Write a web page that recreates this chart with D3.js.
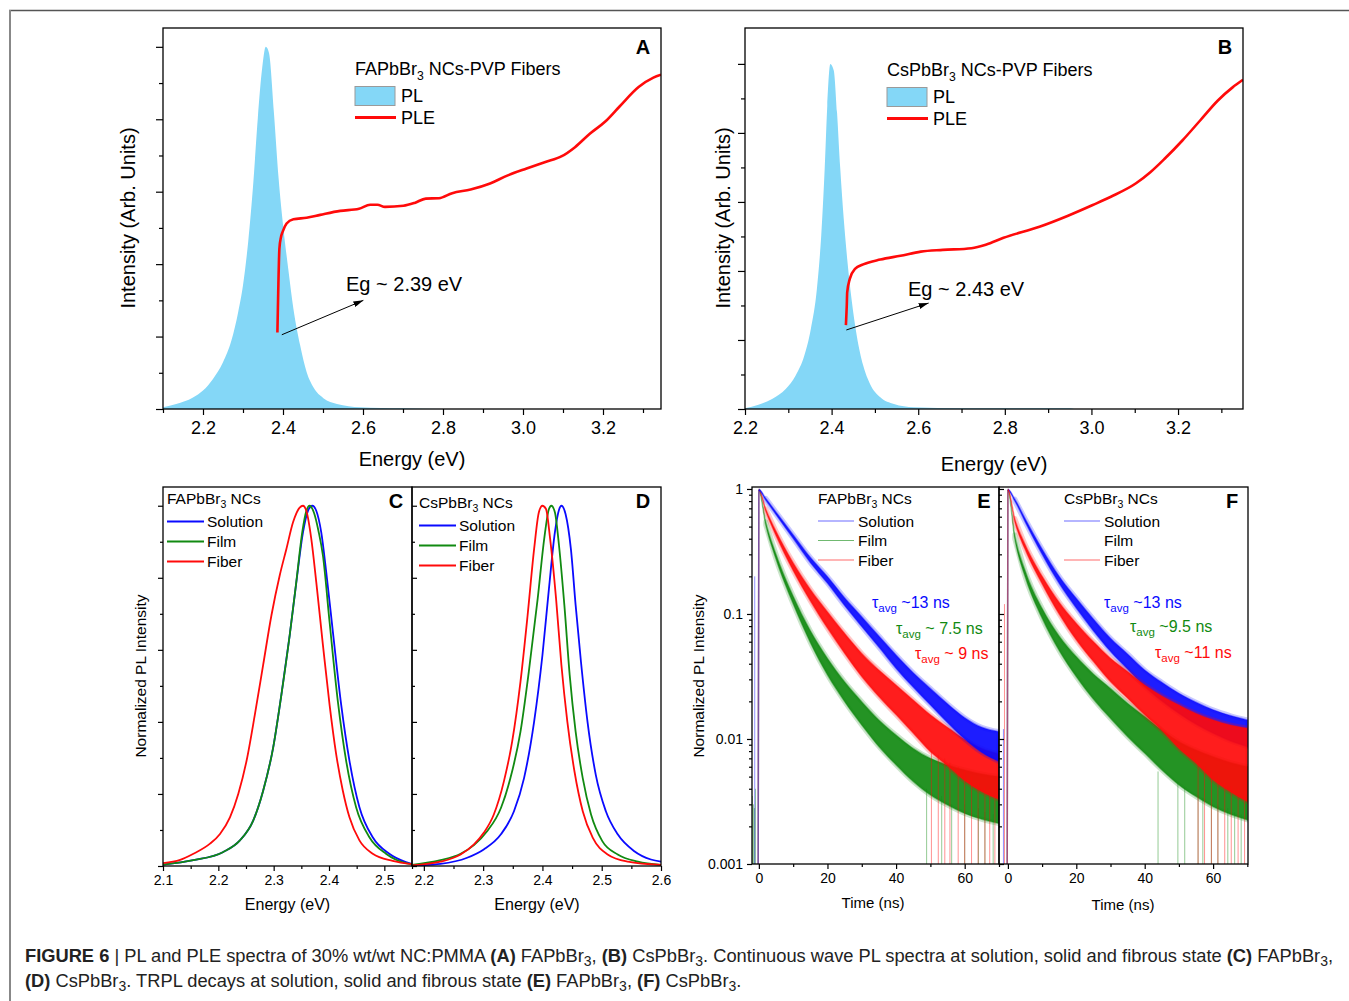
<!DOCTYPE html>
<html><head><meta charset="utf-8">
<script src="https://cdn.jsdelivr.net/npm/d3@7"></script>
<style>
body{margin:0;background:#fff}
svg{display:block;font-family:"Liberation Sans",Arial,sans-serif}
</style></head><body>
<div id="chart"></div>
<script>
const W = 1349, H = 1001;
const FONT = '"Liberation Sans",Arial,sans-serif';
const BLUE = '#0a0aff', GREEN = '#118a11', RED = '#ff0a0a', SKY = '#84d7f7';

// ---- A / B : PL (filled) and PLE ----
const plA = [[2.1,0.005],[2.133,0.014],[2.175,0.032],[2.2,0.051],[2.225,0.083],[2.25,0.129],[2.271,0.189],[2.288,0.268],[2.3,0.342],[2.313,0.462],[2.326,0.628],[2.337,0.803],[2.348,0.942],[2.357,1.0],[2.365,0.983],[2.377,0.822],[2.389,0.637],[2.401,0.499],[2.413,0.388],[2.426,0.277],[2.443,0.175],[2.459,0.102],[2.476,0.06],[2.501,0.03],[2.535,0.014],[2.593,0.005],[2.7,0.002],[2.8,0],[3.345,0]];
const pleA = [[2.386,0.211],[2.388,0.32],[2.391,0.443],[2.395,0.475],[2.399,0.489],[2.409,0.512],[2.426,0.524],[2.459,0.528],[2.493,0.536],[2.543,0.547],[2.59,0.553],[2.618,0.564],[2.636,0.564],[2.655,0.558],[2.701,0.561],[2.729,0.569],[2.757,0.581],[2.79,0.582],[2.823,0.596],[2.869,0.606],[2.916,0.622],[2.962,0.645],[3.009,0.664],[3.056,0.682],[3.097,0.698],[3.13,0.723],[3.167,0.76],[3.205,0.793],[3.242,0.836],[3.289,0.889],[3.326,0.915],[3.345,0.923]];
const plB = [[2.2,0.002],[2.231,0.012],[2.2625,0.029],[2.294,0.058],[2.317,0.097],[2.337,0.155],[2.352,0.232],[2.366,0.348],[2.376,0.502],[2.384,0.696],[2.39,0.879],[2.397,1.0],[2.405,0.981],[2.4125,0.86],[2.42,0.696],[2.428,0.551],[2.436,0.435],[2.446,0.319],[2.458,0.213],[2.473,0.126],[2.489,0.072],[2.5125,0.034],[2.544,0.0145],[2.59,0.005],[2.7,0.002],[2.95,0.002],[2.96,0],[3.35,0]];
const pleB = [[2.433,0.243],[2.435,0.3],[2.436,0.338],[2.442,0.377],[2.454,0.406],[2.473,0.419],[2.5125,0.433],[2.559,0.444],[2.606,0.456],[2.657,0.461],[2.723,0.466],[2.756,0.476],[2.797,0.496],[2.88,0.528],[2.946,0.56],[3.003,0.591],[3.045,0.615],[3.103,0.654],[3.136,0.686],[3.169,0.725],[3.21,0.778],[3.251,0.836],[3.292,0.894],[3.326,0.932],[3.35,0.954]];
const arrowA = [[2.397,0.205],[2.601,0.3]];
const arrowB = [[2.434,0.229],[2.624,0.307]];

// ---- C / D : normalized PL ----
const plC_solution = [[2.1,0.004],[2.155,0.016],[2.209,0.039],[2.239,0.071],[2.263,0.126],[2.281,0.209],[2.299,0.328],[2.314,0.476],[2.329,0.641],[2.341,0.788],[2.353,0.926],[2.362,0.986],[2.37,1.0],[2.377,0.986],[2.386,0.926],[2.395,0.816],[2.407,0.65],[2.422,0.448],[2.437,0.292],[2.455,0.163],[2.479,0.08],[2.509,0.034],[2.539,0.011],[2.55,0.006]];
const plC_film = [[2.1,0.004],[2.155,0.016],[2.209,0.039],[2.239,0.071],[2.263,0.126],[2.281,0.209],[2.299,0.328],[2.314,0.476],[2.329,0.641],[2.341,0.79],[2.352,0.93],[2.359,0.985],[2.365,1.0],[2.373,0.98],[2.381,0.93],[2.389,0.862],[2.401,0.678],[2.416,0.457],[2.431,0.292],[2.449,0.163],[2.473,0.08],[2.503,0.034],[2.539,0.008],[2.55,0.005]];
const plC_fiber = [[2.1,0.008],[2.131,0.017],[2.155,0.034],[2.185,0.062],[2.203,0.089],[2.221,0.135],[2.236,0.2],[2.251,0.292],[2.266,0.42],[2.281,0.558],[2.296,0.696],[2.311,0.807],[2.323,0.88],[2.335,0.954],[2.347,0.995],[2.353,1.0],[2.359,0.986],[2.368,0.908],[2.377,0.788],[2.389,0.614],[2.401,0.448],[2.413,0.31],[2.425,0.209],[2.437,0.135],[2.455,0.071],[2.479,0.034],[2.515,0.014],[2.55,0.005]];
const plD_solution = [[2.18,0.001],[2.228,0.006],[2.273,0.023],[2.301,0.046],[2.33,0.088],[2.352,0.152],[2.369,0.244],[2.386,0.401],[2.4,0.585],[2.411,0.77],[2.421,0.926],[2.428,0.989],[2.432,1.0],[2.439,0.977],[2.448,0.88],[2.456,0.724],[2.465,0.567],[2.476,0.401],[2.49,0.253],[2.507,0.152],[2.527,0.088],[2.555,0.041],[2.583,0.018],[2.6,0.012]];
const plD_film = [[2.18,0.003],[2.228,0.016],[2.262,0.034],[2.2845,0.058],[2.307,0.097],[2.33,0.161],[2.346,0.244],[2.363,0.373],[2.377,0.539],[2.392,0.742],[2.403,0.908],[2.411,0.991],[2.415,1.0],[2.421,0.982],[2.428,0.889],[2.437,0.724],[2.446,0.53],[2.456,0.373],[2.468,0.244],[2.482,0.143],[2.501,0.069],[2.527,0.032],[2.561,0.012],[2.6,0.003]];
const plD_fiber = [[2.18,0.002],[2.228,0.012],[2.262,0.032],[2.2845,0.06],[2.301,0.092],[2.318,0.143],[2.335,0.235],[2.349,0.346],[2.363,0.512],[2.375,0.696],[2.386,0.88],[2.394,0.982],[2.4,1.0],[2.406,0.991],[2.413,0.908],[2.423,0.742],[2.432,0.558],[2.442,0.401],[2.454,0.263],[2.468,0.152],[2.485,0.078],[2.51,0.032],[2.544,0.012],[2.6,0.003]];

// ---- E / F : TRPL decays, noise band as upper/lower envelope ----
const decayT = [-0.2, 0, 2, 5, 10, 15, 20, 25, 30, 35, 40, 45, 50, 55, 60, 65, 70];
const E_solution_hi = [0.001, 0.994, 0.842, 0.655, 0.431, 0.284, 0.199, 0.135, 0.0952, 0.0667, 0.047, 0.0339, 0.0254, 0.0191, 0.0148, 0.0124, 0.01145];
const E_solution_lo = [0.001, 0.97, 0.811, 0.623, 0.401, 0.2575, 0.176, 0.1166, 0.0792, 0.0541, 0.0367, 0.0259, 0.0187, 0.0135, 0.01, 0.0078, 0.0066];
const E_film_hi = [0.001, 0.994, 0.548, 0.302, 0.139, 0.0736, 0.0442, 0.0287, 0.0199, 0.0142, 0.01076, 0.0084, 0.007, 0.0062, 0.00565, 0.00525, 0.005];
const E_film_lo = [0.001, 0.97, 0.515, 0.2737, 0.12, 0.059, 0.0325, 0.0199, 0.0129, 0.00868, 0.0062, 0.00456, 0.00356, 0.00296, 0.00254, 0.00228, 0.00211];
const E_fiber_hi = [0.001, 0.994, 0.696, 0.461, 0.2575, 0.158, 0.1044, 0.07, 0.0484, 0.0356, 0.027, 0.0205, 0.0156, 0.0124, 0.00994, 0.0084, 0.0076];
const E_fiber_lo = [0.001, 0.97, 0.663, 0.423, 0.222, 0.127, 0.0768, 0.0484, 0.0315, 0.0218, 0.0156, 0.0111, 0.0079, 0.0061, 0.00464, 0.00379, 0.00329];
const F_solution_hi = [0.001, 0.994, 0.832, 0.582, 0.331, 0.2, 0.1334, 0.0912, 0.0639, 0.0479, 0.0356, 0.0284, 0.0232, 0.0197, 0.0171, 0.0154, 0.0142];
const F_solution_lo = [0.001, 0.97, 0.802, 0.548, 0.3, 0.175, 0.111, 0.0731, 0.05, 0.0361, 0.0262, 0.0201, 0.016, 0.0131, 0.0111, 0.00964, 0.00868];
const F_film_hi = [0.001, 0.994, 0.431, 0.225, 0.111, 0.0667, 0.0456, 0.0331, 0.0254, 0.0193, 0.0151, 0.0118, 0.00952, 0.00817, 0.00722, 0.0065, 0.006];
const F_film_lo = [0.001, 0.97, 0.401, 0.199, 0.0923, 0.0509, 0.0315, 0.0208, 0.0146, 0.01044, 0.00768, 0.00565, 0.00429, 0.00346, 0.00287, 0.0025, 0.00225];
const F_fiber_hi = [0.001, 0.994, 0.582, 0.363, 0.201, 0.124, 0.0842, 0.0601, 0.0442, 0.0346, 0.027, 0.0221, 0.0187, 0.016, 0.0142, 0.01294, 0.01217];
const F_fiber_lo = [0.001, 0.97, 0.548, 0.329, 0.174, 0.0994, 0.0619, 0.0416, 0.0287, 0.0212, 0.0156, 0.0117, 0.0084, 0.00639, 0.0047, 0.00379, 0.00315];
// spikes down to the axis floor: [time, top value]
const E_fiber_spikes = [[50.3,0.008],[52.3,0.0075],[54.2,0.007],[55.7,0.0065],[58.1,0.006],[60,0.0055],[62,0.005],[63.9,0.0045],[65.9,0.0042],[67.3,0.004],[68.8,0.0038]];
const E_film_spikes = [[-1.9,0.0035],[-1.6,0.003],[-1.3,0.0028],[-1.0,0.004],[48.9,0.004],[53.3,0.0035],[56.2,0.003],[60,0.003],[64,0.0028],[65.9,0.0026],[68.3,0.0025]];
const E_solution_spikes = [[-1.2,0.2]];
const F_fiber_spikes = [[-1.0,0.12],[55.6,0.0065],[57.5,0.006],[59.5,0.0055],[61.4,0.005],[63.4,0.0045],[65.3,0.0042],[67.3,0.004],[69.2,0.0038]];
const F_film_spikes = [[43.9,0.0055],[49.7,0.0045],[51.7,0.004],[55.6,0.0036],[57,0.0034],[59.5,0.003],[61.4,0.003],[64.3,0.0028],[66.3,0.0026],[68.2,0.0025]];
const F_solution_spikes = [[-1.3,0.012]];

// ---- tick values ----
const ticksA_x = [2.2, 2.4, 2.6, 2.8, 3.0, 3.2];
const ticksA_xMinor = [2.1, 2.3, 2.5, 2.7, 2.9, 3.1, 3.3];
const ticksB_x = [2.2, 2.4, 2.6, 2.8, 3.0, 3.2];
const ticksB_xMinor = [2.3, 2.5, 2.7, 2.9, 3.1, 3.3];
const ticksY = [0, 0.2, 0.4, 0.6, 0.8, 1.0];
const ticksYMinor = [0.1, 0.3, 0.5, 0.7, 0.9];
const ticksC_x = [2.1, 2.2, 2.3, 2.4, 2.5];
const ticksC_xMinor = [2.15, 2.25, 2.35, 2.45, 2.55];
const ticksD_x = [2.2, 2.3, 2.4, 2.5, 2.6];
const ticksD_xMinor = [2.25, 2.35, 2.45, 2.55];
const ticksT = [0, 20, 40, 60];
const ticksTMinor = [10, 30, 50, 70];
const ticksLog = [0.001, 0.01, 0.1, 1];
const ticksLogMinor = [0.002,0.003,0.004,0.005,0.006,0.007,0.008,0.009,0.02,0.03,0.04,0.05,0.06,0.07,0.08,0.09,0.2,0.3,0.4,0.5,0.6,0.7,0.8,0.9];

const svg = d3.select('#chart').append('svg').attr('width', W).attr('height', H);
const defs = svg.append('defs');
defs.append('marker').attr('id', 'arrow').attr('viewBox', '0 0 10 6')
  .attr('refX', 10).attr('refY', 3).attr('markerWidth', 10).attr('markerHeight', 6)
  .attr('markerUnits', 'userSpaceOnUse').attr('orient', 'auto')
  .append('path').attr('d', 'M0,0L10,3L0,6Z').attr('fill', '#000');

// outer figure frame
svg.append('line').attr('x1', 9).attr('y1', 10.5).attr('x2', W).attr('y2', 10.5).attr('stroke', '#555').attr('stroke-width', 1.5);
svg.append('line').attr('x1', 10).attr('y1', 10).attr('x2', 10).attr('y2', H).attr('stroke', '#888').attr('stroke-width', 2);

function plotArea(id, p) {
  defs.append('clipPath').attr('id', id).append('rect')
    .attr('x', p.x0).attr('y', p.y0).attr('width', p.x1 - p.x0).attr('height', p.y1 - p.y0);
  return svg.append('g').attr('clip-path', `url(#${id})`);
}

function box(p) {
  svg.append('rect').attr('x', p.x0).attr('y', p.y0).attr('width', p.x1 - p.x0).attr('height', p.y1 - p.y0)
    .attr('fill', 'none').attr('stroke', '#000').attr('stroke-width', 1.3);
}

function drawAxis(gen, pos, values, size, fmt, font, pad) {
  const g = svg.append('g').attr('transform', pos)
    .call(gen.tickValues(values).tickSize(size).tickPadding(pad || 4).tickFormat(fmt || (() => '')));
  g.select('.domain').remove();
  g.selectAll('line').attr('stroke', '#000').attr('stroke-width', 1.2);
  g.selectAll('text').attr('fill', '#000').style('font-size', (font || 14) + 'px').style('font-family', FONT);
  return g;
}

function label(x, y, txt, size, opts) {
  opts = opts || {};
  const t = svg.append('text').attr('x', x).attr('y', y).style('font-size', size + 'px')
    .attr('fill', opts.color || '#000').text(txt);
  if (opts.bold) t.style('font-weight', 'bold');
  if (opts.anchor) t.attr('text-anchor', opts.anchor);
  if (opts.rotate) t.attr('transform', `rotate(-90,${x},${y})`);
  return t;
}

function chem(x, y, pre, post, size) {
  const t = svg.append('text').attr('x', x).attr('y', y).style('font-size', size + 'px').attr('fill', '#000');
  t.append('tspan').text(pre);
  t.append('tspan').attr('dy', size * 0.3).style('font-size', (size * 0.68) + 'px').text('3');
  t.append('tspan').attr('dy', -size * 0.3).text(post);
  return t;
}

function tau(x, y, post, color, size) {
  const t = svg.append('text').attr('x', x).attr('y', y).style('font-size', size + 'px').attr('fill', color);
  t.append('tspan').text('\u03c4');
  t.append('tspan').attr('dy', size * 0.3).style('font-size', (size * 0.72) + 'px').text('avg');
  t.append('tspan').attr('dy', -size * 0.3).text(post);
}

const fmt1 = d3.format('.1f');

// ================= A and B =================
function panelAB(p, pl, ple, arrow, ticksX, ticksXMinor, info) {
  const x = d3.scaleLinear().domain(p.xd).range([p.x0, p.x1]);
  const y = d3.scaleLinear().domain(p.yd).range([p.y1, p.y0]);
  const g = plotArea(p.id, p);
  g.append('path').datum(pl)
    .attr('d', d3.area().x(d => x(d[0])).y0(y(0)).y1(d => y(d[1])).curve(d3.curveMonotoneX))
    .attr('fill', SKY);
  g.append('path').datum(ple)
    .attr('d', d3.line().x(d => x(d[0])).y(d => y(d[1])).curve(d3.curveMonotoneX))
    .attr('fill', 'none').attr('stroke', RED).attr('stroke-width', 2.6).attr('stroke-linejoin', 'round');
  svg.append('line').attr('x1', x(arrow[0][0])).attr('y1', y(arrow[0][1]))
    .attr('x2', x(arrow[1][0])).attr('y2', y(arrow[1][1]))
    .attr('stroke', '#000').attr('stroke-width', 1).attr('marker-end', 'url(#arrow)');
  box(p);
  drawAxis(d3.axisBottom(x), `translate(0,${p.y1})`, ticksXMinor, 4);
  drawAxis(d3.axisBottom(x), `translate(0,${p.y1})`, ticksX, 6, fmt1, 18, 6);
  drawAxis(d3.axisLeft(y), `translate(${p.x0},0)`, ticksYMinor, 4);
  drawAxis(d3.axisLeft(y), `translate(${p.x0},0)`, ticksY, 7);

  chem(info.lx, info.ly, info.name, ' NCs-PVP Fibers', 18);
  svg.append('rect').attr('x', info.lx).attr('y', info.ly + 12).attr('width', 40).attr('height', 19)
    .attr('fill', SKY).attr('stroke', '#9a9a9a').attr('stroke-width', 1);
  label(info.lx + 46, info.ly + 27, 'PL', 18);
  svg.append('line').attr('x1', info.lx).attr('x2', info.lx + 41).attr('y1', info.ly + 43).attr('y2', info.ly + 43)
    .attr('stroke', RED).attr('stroke-width', 3);
  label(info.lx + 46, info.ly + 49.5, 'PLE', 18);
  label(info.ex, info.ey, info.eg, 20);
  label(info.px, p.y0 + 26, info.letter, 20, { bold: true, anchor: 'middle' });
  label(info.yx, 218, 'Intensity (Arb. Units)', 20, { rotate: true, anchor: 'middle' });
  label((info.tx), info.ty, 'Energy (eV)', 20, { anchor: 'middle' });
}

panelAB({ id: 'cA', x0: 163, x1: 661, y0: 28, y1: 409, xd: [2.1, 3.345], yd: [0, 1.052] },
  plA, pleA, arrowA, ticksA_x, ticksA_xMinor,
  { name: 'FAPbBr', lx: 355, ly: 74.5, ex: 346, ey: 291, eg: 'Eg ~ 2.39 eV', letter: 'A', px: 643, yx: 135, tx: 412, ty: 466 });
panelAB({ id: 'cB', x0: 745, x1: 1243, y0: 28, y1: 409, xd: [2.2, 3.35], yd: [0, 1.104] },
  plB, pleB, arrowB, ticksB_x, ticksB_xMinor,
  { name: 'CsPbBr', lx: 887, ly: 75.5, ex: 908, ey: 296, eg: 'Eg ~ 2.43 eV', letter: 'B', px: 1225, yx: 730, tx: 994, ty: 471 });

// ================= C and D =================
function panelCD(p, series, ticksX, ticksXMinor, info) {
  const x = d3.scaleLinear().domain(p.xd).range([p.x0, p.x1]);
  const y = d3.scaleLinear().domain([0, 1.052]).range([p.y1, p.y0]);
  const g = plotArea(p.id, p);
  series.forEach(s => {
    g.append('path').datum(s.data)
      .attr('d', d3.line().x(d => x(d[0])).y(d => y(d[1])).curve(d3.curveMonotoneX))
      .attr('fill', 'none').attr('stroke', s.color).attr('stroke-width', 1.8);
  });
  box(p);
  drawAxis(d3.axisBottom(x), `translate(0,${p.y1})`, ticksXMinor, 3);
  drawAxis(d3.axisBottom(x), `translate(0,${p.y1})`, ticksX, 5, fmt1, 14, 4);
  if (info.inward) {
    drawAxis(d3.axisRight(y), `translate(${p.x0},0)`, ticksYMinor, 3);
    drawAxis(d3.axisRight(y), `translate(${p.x0},0)`, ticksY, 5);
  } else {
    drawAxis(d3.axisLeft(y), `translate(${p.x0},0)`, ticksYMinor, 3);
    drawAxis(d3.axisLeft(y), `translate(${p.x0},0)`, ticksY, 5);
  }
  chem(info.lx, info.ly, info.name, ' NCs', 15.5);
  ['Solution', 'Film', 'Fiber'].forEach((nm, i) => {
    const ly = info.ly + 18 + i * 20;
    svg.append('line').attr('x1', info.lx).attr('x2', info.lx + 37).attr('y1', ly).attr('y2', ly)
      .attr('stroke', series[i].color).attr('stroke-width', 2);
    label(info.lx + 40, ly + 5.5, nm, 15.5);
  });
  label(info.px, p.y0 + 21, info.letter, 20, { bold: true, anchor: 'middle' });
  label((p.x0 + p.x1) / 2 + info.tdx, 909.5, 'Energy (eV)', 16, { anchor: 'middle' });
}

panelCD({ id: 'cC', x0: 163, x1: 412, y0: 487, y1: 866, xd: [2.1, 2.55] },
  [{ data: plC_solution, color: BLUE }, { data: plC_film, color: GREEN }, { data: plC_fiber, color: RED }],
  ticksC_x, ticksC_xMinor, { name: 'FAPbBr', lx: 167, ly: 503.5, letter: 'C', px: 396, tdx: 0 });
panelCD({ id: 'cD', x0: 412, x1: 661, y0: 487, y1: 866, xd: [2.18, 2.6] },
  [{ data: plD_solution, color: BLUE }, { data: plD_film, color: GREEN }, { data: plD_fiber, color: RED }],
  ticksD_x, ticksD_xMinor, { name: 'CsPbBr', lx: 419, ly: 507.5, letter: 'D', px: 643, tdx: 0.5, inward: true });
label(145.6, 676, 'Normalized PL Intensity', 15.5, { rotate: true, anchor: 'middle' });

// ================= E and F =================
function panelEF(p, series, info) {
  const x = d3.scaleLinear().domain(p.xd).range([p.x0, p.x1]);
  const y = d3.scaleLog().domain([0.001, 1.037]).range([p.y1, p.y0]);
  const g = plotArea(p.id, p);
  const band = d3.area().x(d => x(d[0])).y0(d => y(d[1])).y1(d => y(d[2])).curve(d3.curveMonotoneX);
  series.forEach(s => {
    const rows = decayT.map((t, i) => [t, s.lo[i], s.hi[i]]);
    g.selectAll(null).data(s.spikes).enter().append('line')
      .attr('x1', d => x(d[0])).attr('x2', d => x(d[0]))
      .attr('y1', y(0.001)).attr('y2', d => y(d[1]))
      .attr('stroke', s.color).attr('stroke-width', 1).attr('stroke-opacity', 0.45);
    // soft fringe of the noise (decay part only), then the dense core
    g.append('path').datum(rows.slice(2)).attr('d', band)
      .attr('fill', 'none').attr('stroke', s.color).attr('stroke-opacity', 0.22).attr('stroke-width', 5)
      .attr('stroke-linejoin', 'round');
    g.append('path').datum(rows).attr('d', band)
      .attr('fill', s.color).attr('fill-opacity', 0.92)
      .attr('stroke', s.color).attr('stroke-opacity', 0.4).attr('stroke-width', 1.5);
  });
  box(p);
  drawAxis(d3.axisBottom(x), `translate(0,${p.y1})`, ticksTMinor, 3);
  drawAxis(d3.axisBottom(x), `translate(0,${p.y1})`, ticksT, 5, d => d, 14, 4);
  if (info.inward) {
    drawAxis(d3.axisRight(y), `translate(${p.x0},0)`, ticksLogMinor, 3);
    drawAxis(d3.axisRight(y), `translate(${p.x0},0)`, ticksLog, 5);
  } else {
    drawAxis(d3.axisLeft(y), `translate(${p.x0},0)`, ticksLogMinor, 3);
    drawAxis(d3.axisLeft(y), `translate(${p.x0},0)`, ticksLog, 5, d => String(d), 14, 4);
  }
  chem(info.lx, 503.5, info.name, ' NCs', 15.5);
  ['Solution', 'Film', 'Fiber'].forEach((nm, i) => {
    const ly = 521 + i * 19.5;
    if (info.legendLines[i]) {
      svg.append('line').attr('x1', info.lx).attr('x2', info.lx + 36).attr('y1', ly).attr('y2', ly)
        .attr('stroke', info.legendLines[i]).attr('stroke-width', 1.2).attr('stroke-opacity', 0.6);
    }
    label(info.lx + 40, ly + 5.5, nm, 15.5);
  });
  info.taus.forEach(t => tau(t[0], t[1], t[2], t[3], 16));
  label(info.px, 508, info.letter, 20, { bold: true, anchor: 'middle' });
  label(info.tx, info.ty, 'Time (ns)', 15, { anchor: 'middle' });
}

panelEF({ id: 'cE', x0: 752, x1: 999, y0: 487, y1: 864, xd: [-2, 70] },
  [{ lo: E_film_lo, hi: E_film_hi, spikes: E_film_spikes, color: GREEN },
   { lo: E_fiber_lo, hi: E_fiber_hi, spikes: E_fiber_spikes, color: RED },
   { lo: E_solution_lo, hi: E_solution_hi, spikes: E_solution_spikes, color: BLUE }],
  { name: 'FAPbBr', lx: 818, legendLines: [BLUE, GREEN, RED], letter: 'E', px: 984, tx: 873, ty: 907.5,
    taus: [[872, 607.5, ' ~13 ns', BLUE], [896, 633.5, ' ~ 7.5 ns', GREEN], [915, 658.5, ' ~ 9 ns', RED]] });
panelEF({ id: 'cF', x0: 999, x1: 1248, y0: 487, y1: 864, xd: [-2.6, 70.2] },
  [{ lo: F_film_lo, hi: F_film_hi, spikes: F_film_spikes, color: GREEN },
   { lo: F_solution_lo, hi: F_solution_hi, spikes: F_solution_spikes, color: BLUE },
   { lo: F_fiber_lo, hi: F_fiber_hi, spikes: F_fiber_spikes, color: RED }],
  { name: 'CsPbBr', lx: 1064, legendLines: [BLUE, null, RED], letter: 'F', px: 1232, tx: 1123, ty: 909.5, inward: true,
    taus: [[1104, 607.5, ' ~13 ns', BLUE], [1130, 631.5, ' ~9.5 ns', GREEN], [1155, 657.5, ' ~11 ns', RED]] });
label(703.6, 676, 'Normalized PL Intensity', 15.5, { rotate: true, anchor: 'middle' });

// ================= caption =================
const captionLines = [
  [['FIGURE 6', 'b'], [' | PL and PLE spectra of 30% wt/wt NC:PMMA ', ''], ['(A)', 'b'], [' FAPbBr', ''], ['3', 's'], [', ', ''], ['(B)', 'b'], [' CsPbBr', ''], ['3', 's'],
   ['. Continuous wave PL spectra at solution, solid and fibrous state ', ''], ['(C)', 'b'], [' FAPbBr', ''], ['3', 's'], [',', '']],
  [['(D)', 'b'], [' CsPbBr', ''], ['3', 's'], ['. TRPL decays at solution, solid and fibrous state ', ''], ['(E)', 'b'], [' FAPbBr', ''], ['3', 's'], [', ', ''], ['(F)', 'b'], [' CsPbBr', ''], ['3', 's'], ['.', '']]
];
captionLines.forEach((parts, li) => {
  const t = svg.append('text').attr('x', 25).attr('y', 962 + li * 25).style('font-size', '18.3px').attr('fill', '#222');
  let shifted = false;
  parts.forEach(([txt, kind]) => {
    const sp = t.append('tspan').text(txt);
    if (kind === 'b') sp.style('font-weight', 'bold');
    if (kind === 's') { sp.attr('dy', 4).style('font-size', '14px'); shifted = true; }
    else if (shifted) { sp.attr('dy', -4); shifted = false; }
  });
});
</script></body></html>
